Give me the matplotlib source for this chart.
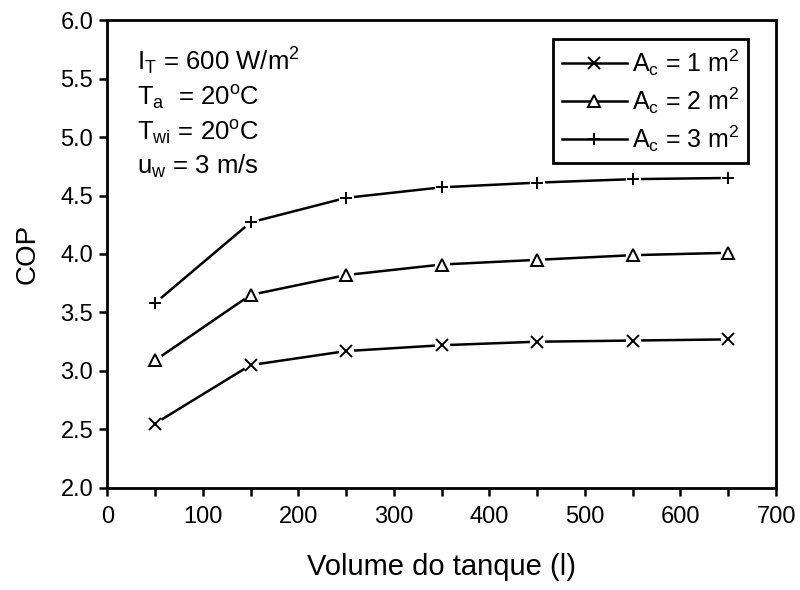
import numpy as np
import matplotlib.pyplot as plt

plt.rcParams['font.family'] = ['Liberation Sans', 'DejaVu Sans']
plt.rcParams['mathtext.default'] = 'regular'

volume = [50, 150, 250, 350, 450, 550, 650]
cop_ac1 = [2.55, 3.05, 3.17, 3.22, 3.25, 3.26, 3.27]
cop_ac2 = [3.09, 3.65, 3.82, 3.91, 3.95, 3.99, 4.01]
cop_ac3 = [3.58, 4.27, 4.48, 4.57, 4.61, 4.64, 4.65]

series = [
    (cop_ac1, 'x', '$A_c$ = 1 m$^2$'),
    (cop_ac2, '^', '$A_c$ = 2 m$^2$'),
    (cop_ac3, '+', '$A_c$ = 3 m$^2$'),
]

fig = plt.figure(figsize=(8, 5.9), dpi=100)
ax = fig.add_axes([0.134, 0.173, 0.836, 0.793])

for y, m, lab in series:
    ax.plot(volume, y, color='black', lw=1.8, zorder=2)
    # white patch to leave a gap around each marker
    ax.plot(volume, y, ls='none', marker='o', ms=11, mfc='white', mec='none', zorder=3)
    ax.plot(volume, y, ls='none', marker=m, ms=9, mfc='white', mec='black', mew=1.4, zorder=4)
    ax.plot([], [], color='black', lw=1.8, marker=m, ms=9, mfc='white', mec='black',
            mew=1.4, label=lab)

ax.set_xlim(0, 700)
ax.set_ylim(2.0, 6.0)
ax.set_xticks(np.arange(0, 701, 100))
ax.set_xticks(np.arange(50, 700, 100), minor=True)
ax.set_yticks(np.arange(2.0, 6.01, 0.5))
ax.yaxis.set_major_formatter(plt.FormatStrFormatter('%.1f'))
ax.tick_params(axis='both', which='major', direction='out', length=6, width=1.8,
               labelsize=17, pad=4)
ax.tick_params(axis='x', which='major', pad=7)
ax.tick_params(axis='x', which='minor', direction='out', length=6, width=1.8)
for s in ax.spines.values():
    s.set_linewidth(2)

ax.set_xlabel('Volume do tanque (l)', fontsize=21, labelpad=18)
ax.set_ylabel('COP', fontsize=20, labelpad=14)

txt = ('$I_T$ = 600 W/m$^2$\n'
       '$T_a$  = 20$^o$C\n'
       '$T_{wi}$ = 20$^o$C\n'
       '$u_w$ = 3 m/s')
ax.text(0.045, 0.945, txt, transform=ax.transAxes, fontsize=18.5, va='top',
        ha='left', linespacing=1.3)

leg = ax.legend(loc='upper right', bbox_to_anchor=(0.958, 0.96), fontsize=18,
                fancybox=False, edgecolor='black', framealpha=1,
                handlelength=2.6, handletextpad=0.2, labelspacing=0.3,
                borderpad=0.35, borderaxespad=0)
leg.get_frame().set_linewidth(2)

fig.savefig('out.png', dpi=100)
